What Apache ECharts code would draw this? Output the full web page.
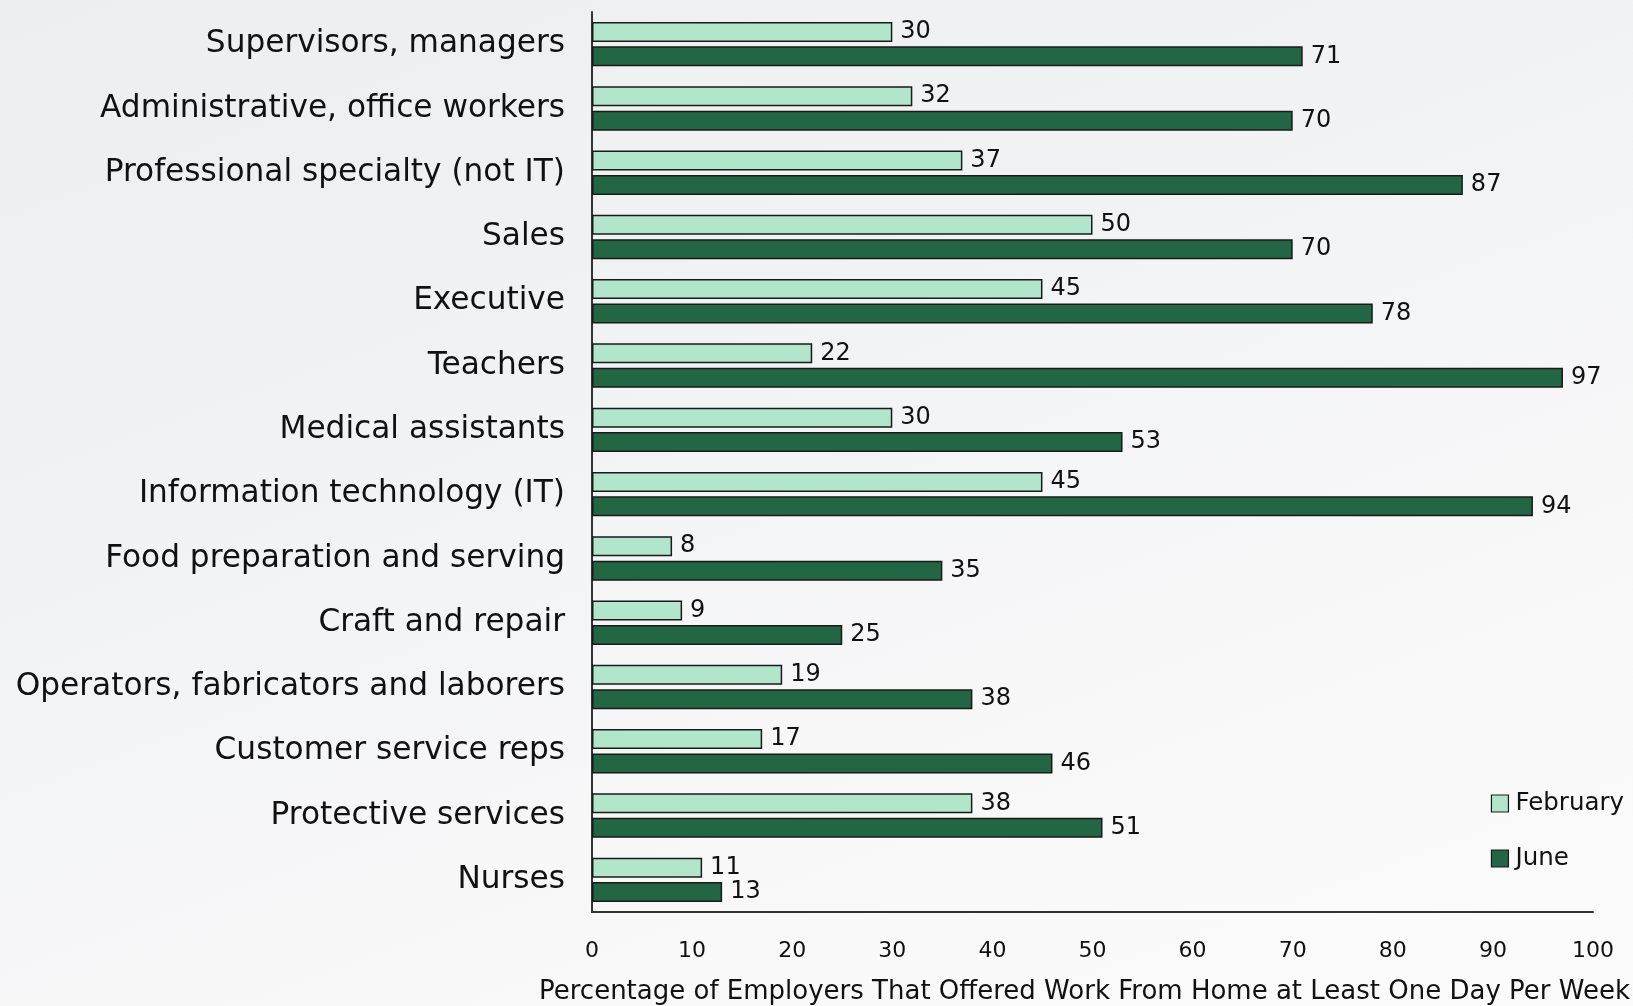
<!DOCTYPE html>
<html>
<head>
<meta charset="utf-8">
<script src="https://cdn.jsdelivr.net/npm/echarts@6/dist/echarts.min.js"></script>
<style>
html,body{margin:0;padding:0;width:1633px;height:1006px;overflow:hidden;}
body{background:linear-gradient(160deg,#eceef0 0%,#f1f2f4 35%,#f8f8f9 70%,#fbfbfb 100%);}
#c{width:1633px;height:1006px;}
</style>
</head>
<body>
<div id="c"></div>
<script>
const categories = [
  'Supervisors, managers',
  'Administrative, office workers',
  'Professional specialty (not IT)',
  'Sales',
  'Executive',
  'Teachers',
  'Medical assistants',
  'Information technology (IT)',
  'Food preparation and serving',
  'Craft and repair',
  'Operators, fabricators and laborers',
  'Customer service reps',
  'Protective services',
  'Nurses'
];
const february = [30, 32, 37, 50, 45, 22, 30, 45, 8, 9, 19, 17, 38, 11];
const june = [71, 70, 87, 70, 78, 97, 53, 94, 35, 25, 38, 46, 51, 13];
const xTicks = [0, 10, 20, 30, 40, 50, 60, 70, 80, 90, 100];
const axisTitle = 'Percentage of Employers That Offered Work From Home at Least One Day Per Week';

const FONT = '"DejaVu Sans", sans-serif';
const chart = echarts.init(document.getElementById('c'), null, {renderer: 'canvas'});

function barSeries(name, data, color) {
  return {
    name: name,
    type: 'bar',
    data: data,
    barWidth: 20,
    barGap: '22%',
    itemStyle: {color: color, borderColor: '#1a1a1a', borderWidth: 1.5},
    label: {
      show: true,
      position: 'right',
      distance: 8,
      color: '#111',
      fontFamily: FONT,
      fontSize: 24
    }
  };
}

chart.setOption({
  backgroundColor: 'transparent',
  animation: false,
  grid: {left: 592, right: 40, top: 12, bottom: 94, containLabel: false, outerBoundsMode: 'none'},
  legend: {
    orient: 'vertical',
    right: 4,
    top: 786,
    itemWidth: 17,
    itemHeight: 17,
    itemGap: 30,
    icon: 'rect',
    data: ['February', 'June'],
    itemStyle: {borderColor: '#1a1a1a', borderWidth: 1.2},
    textStyle: {fontFamily: FONT, fontSize: 24.5, color: '#111', padding: [0, 0, 0, 2]}
  },
  xAxis: {
    type: 'value',
    min: 0,
    max: 100,
    interval: 10,
    name: axisTitle,
    nameLocation: 'middle',
    nameGap: 67,
    nameTextStyle: {fontFamily: FONT, fontSize: 26, color: '#111', padding: [0, 16, 0, 0]},
    axisLine: {show: true, lineStyle: {color: '#333', width: 2}},
    axisTick: {show: false},
    splitLine: {show: false},
    axisLabel: {
      fontFamily: FONT, fontSize: 22, color: '#111', margin: 28,
      formatter: function (v) { return xTicks.indexOf(v) >= 0 ? String(v) : ''; }
    }
  },
  yAxis: {
    type: 'category',
    data: categories,
    inverse: true,
    axisLine: {show: true, lineStyle: {color: '#333', width: 2}},
    axisTick: {show: false},
    axisLabel: {fontFamily: FONT, fontSize: 31.2, color: '#111', margin: 27}
  },
  series: [
    barSeries('February', february, '#b2e6cb'),
    barSeries('June', june, '#236643')
  ]
});
</script>
</body>
</html>
